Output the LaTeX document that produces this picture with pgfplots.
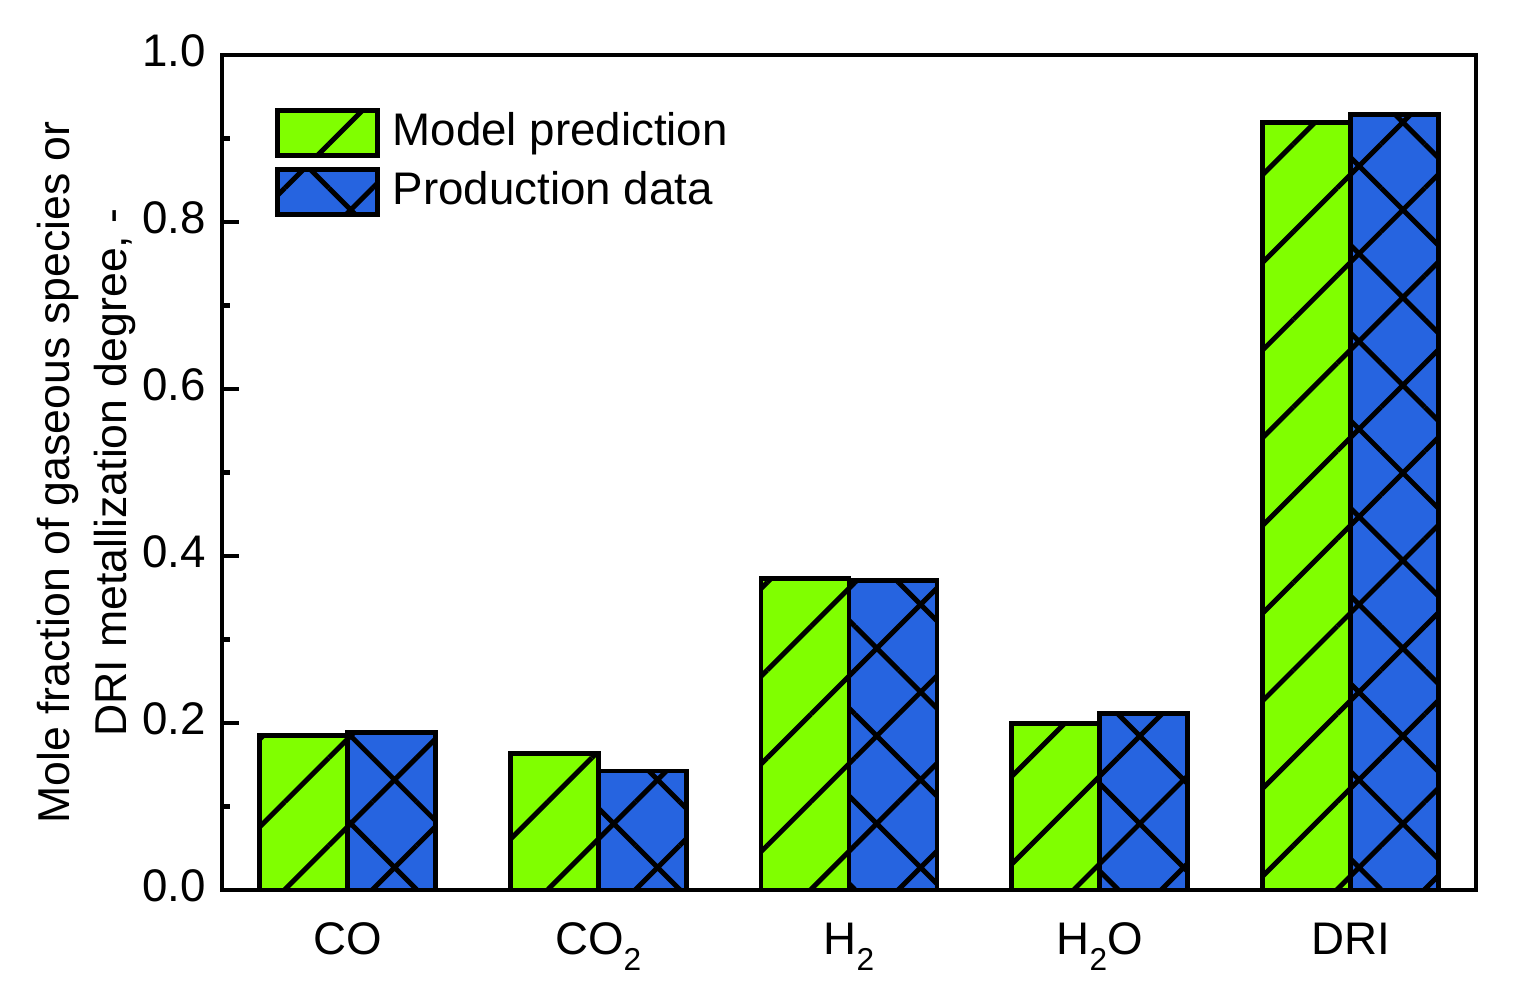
\documentclass[border=0pt]{standalone}
\usepackage{pgfplots}
\pgfplotsset{compat=1.18}
\usepackage{fontspec}
\setmainfont{Liberation Sans}
\usetikzlibrary{patterns.meta}
\definecolor{modelgreen}{RGB}{128,255,0}
\definecolor{datablue}{RGB}{38,100,224}
\newcommand\sub[1]{\raisebox{-4.5pt}{\fontsize{9}{10}\selectfont #1}}

\begin{document}
\fontsize{13}{16.2}\selectfont
\begin{tikzpicture}
\begin{axis}[
  scale only axis, width=12.54cm, height=8.35cm,
  ybar=0pt, bar width=0.88cm,
  xmin=-0.5, xmax=4.5, ymin=0, ymax=1,
  xtick=data,
  xticklabels={CO, CO\sub{2}, H\sub{2}, H\sub{2}O, DRI},
  xtick style={draw=none},
  typeset ticklabels with strut,
  xticklabel style={yshift=-0.09cm},
  ytick={0,0.2,0.4,0.6,0.8,1.0}, minor y tick num=1,
  ytick pos=left, tick align=inside,
  major tick length=0.17cm, minor tick length=0.08cm,
  ytick style={line width=1.3pt, black},
  yticklabel style={/pgf/number format/fixed, /pgf/number format/fixed zerofill,
    /pgf/number format/precision=1, /pgf/number format/assume math mode=true},
  every tick label/.append style={font=\fontsize{13}{16.2}\selectfont},
  axis line style={line width=1.3pt},
  ylabel={Mole fraction of gaseous species or\\DRI metallization degree, -},
  ylabel style={at={(rel axis cs:-0.108,0.5)}, anchor=center, align=center,
    font=\fontsize{12.7}{16}\selectfont},
  legend image code/.code={\draw[#1] (0cm,-0.225cm) rectangle (1cm,0.225cm);},
  legend style={at={(rel axis cs:0,1)}, anchor=north west, xshift=0.52cm, yshift=-0.5cm,
    draw=none, fill=none, inner sep=0pt, row sep=0.05cm, column sep=0.06cm,
    font=\fontsize{13}{16.2}\selectfont},
  legend cell align=left,
]
\addplot[fill=modelgreen, draw=black, line width=1.4pt,
  postaction={pattern={Lines[angle=45,distance=0.62cm,line width=1.4pt]}, pattern color=black}]
  coordinates {(0,0.185) (1,0.163) (2,0.373) (3,0.199) (4,0.919)};
\addlegendentry{Model prediction}
\addplot[fill=datablue, draw=black, line width=1.4pt,
  postaction={pattern={Hatch[angle=45,distance=0.62cm,line width=1.4pt]}, pattern color=black}]
  coordinates {(0,0.189) (1,0.1425) (2,0.371) (3,0.211) (4,0.929)};
\addlegendentry{Production data}
\end{axis}
\path (current axis.south west) ++(-2.22cm,-1.09cm) rectangle ([xshift=0.37cm,yshift=0.55cm]current axis.north east);
\end{tikzpicture}
\end{document}
